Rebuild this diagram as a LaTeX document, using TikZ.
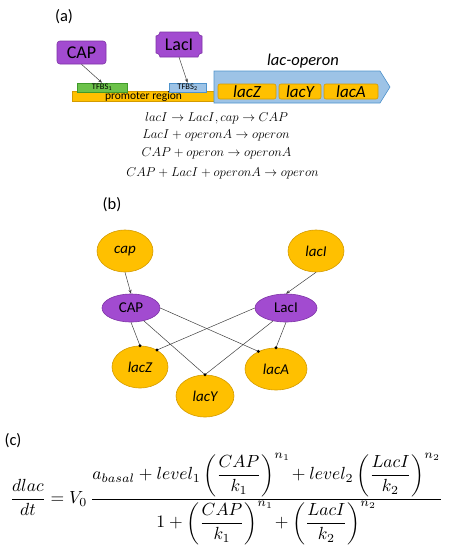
\documentclass[tikz,border=0pt]{standalone}
\usepackage{fontspec}
\setmainfont{Carlito}
\usepackage{amsmath}
\usetikzlibrary{shapes.misc,shapes.geometric,arrows.meta}
\definecolor{purp}{HTML}{A24BD0}
\definecolor{purpb}{HTML}{7E34A6}
\definecolor{orng}{HTML}{FFC000}
\definecolor{orngb}{HTML}{D49B00}
\definecolor{lblue}{HTML}{9DC3E6}
\definecolor{bblue}{HTML}{4F93CC}
\definecolor{grn}{HTML}{6CC24A}
\definecolor{grnb}{HTML}{3F9A2A}
\definecolor{edgec}{HTML}{404040}
\tikzset{
  fs/.style={font=\fontsize{#1}{#1}\selectfont},
  panel/.style={fs=16.5, anchor=center},
  protbox/.style={fill=purp, draw=purpb, line width=0.6pt, rounded corners=3pt, minimum width=49pt, minimum height=23pt, inner sep=0pt, fs=18},
  plaque/.style={fill=purp, draw=purpb, line width=0.6pt},
  genebox/.style={fill=orng, draw=orngb, line width=0.6pt, rounded corners=2pt, minimum height=15pt, inner sep=0pt, font=\fontsize{17}{17}\selectfont\itshape},
  site/.style={line width=0.6pt, minimum height=9pt, inner sep=0pt, fs=8.5},
  eqline/.style={font=\fontsize{12}{12}\selectfont, anchor=center, scale=1.07},
  arr/.style={draw=edgec, line width=0.5pt, -{Stealth[length=4pt,width=3pt]}},
  dotline/.style={draw=edgec, line width=0.5pt},
  enddot/.style={fill=black},
  orngell/.style={ellipse, fill=orng, draw=orngb, line width=0.6pt, minimum width=56pt, minimum height=42pt, inner sep=0pt, font=\fontsize{15}{15}\selectfont\itshape},
  purpell/.style={ellipse, fill=purp, draw=purpb, line width=0.6pt, minimum width=58pt, minimum height=28pt, inner sep=0pt, fs=15},
}
\begin{document}
\begin{tikzpicture}[x=1pt,y=-1pt]
\useasboundingbox (0,0) rectangle (449,550);
% ---------- (a)
\node[panel] (la) at (64,17) {(a)};
\node[site, fill=orng, draw=orngb, minimum width=143pt, fs=11.5] (prom) at (143.5,96.5) {promoter region};
\node[site, fill=grn, draw=grnb, minimum width=50pt] (tfbs1) at (102,87.5) {TFBS\textsubscript{1}};
\node[site, fill=lblue, draw=bblue, minimum width=37pt] (tfbs2) at (187.5,87.5) {TFBS\textsubscript{2}};
\draw[fill=lblue, draw=bblue, line width=0.6pt] (214,71) -- (380,71) -- (390,87) -- (380,103) -- (214,103) -- cycle;
\node[font=\fontsize{16.5}{16.5}\selectfont\itshape] (oplab) at (303,61) {lac-operon};
\node[genebox, minimum width=58pt] (gZ) at (247,91.5) {lacZ};
\node[genebox, minimum width=42pt] (gY) at (300,91.5) {lacY};
\node[genebox, minimum width=54pt] (gA) at (351,91.5) {lacA};
\node[protbox] (CAPbox) at (81.5,52.5) {CAP};
% LacI plaque (concave corners)
\draw[plaque] (160,32) -- (198,32)
  .. controls (198,34.2) and (199.8,36) .. (202,36) -- (202,53)
  .. controls (199.8,53) and (198,54.8) .. (198,57) -- (160,57)
  .. controls (160,54.8) and (158.2,53) .. (156,53) -- (156,36)
  .. controls (158.2,36) and (160,34.2) .. (160,32) -- cycle;
\node[fs=18, minimum width=46pt, minimum height=25pt, inner sep=0pt] (LacIbox) at (179,44.5) {LacI};
\draw[arr] (CAPbox.south) -- (tfbs1.north);
\draw[arr] (LacIbox.south) -- (tfbs2.north);
\node[eqline] (e1) at (216.5,118) {$lacI \rightarrow LacI, cap \rightarrow CAP$};
\node[eqline] (e2) at (216,135.5) {$LacI + operonA \rightarrow operon$};
\node[eqline] (e3) at (216.5,153.5) {$CAP + operon \rightarrow operonA$};
\node[eqline] (e4) at (222.5,173) {$CAP + LacI + operonA \rightarrow operon$};
% ---------- (b)
\node[panel] (lb) at (112,205) {(b)};
\node[orngell] (cap) at (125,251) {cap};
\node[orngell] (lacI) at (316,251) {lacI};
\node[purpell] (CAP) at (131,308) {CAP};
\node[purpell, minimum width=62pt] (LacI) at (286,308) {LacI};
\node[orngell] (lacZ) at (140,367) {lacZ};
\node[orngell, minimum width=58pt] (lacY) at (205,396) {lacY};
\node[orngell, minimum width=62pt] (lacA) at (276,369) {lacA};
\draw[arr] (cap.south) -- (CAP.north);
\draw[arr] (lacI.south) -- (LacI.north);
\draw[dotline] (CAP.south) -- (lacZ.north);
\draw[dotline] (CAP.-45) -- (lacY.north);
\draw[dotline] (CAP.east) -- (lacA.135);
\draw[dotline] (LacI.west) -- (lacZ.45);
\draw[dotline] (LacI.-135) -- (lacY.north);
\draw[dotline] (LacI.south) -- (lacA.north);
\fill[enddot] (lacZ.north) circle (1.7pt);
\fill[enddot] (lacZ.45) circle (1.7pt);
\fill[enddot] (lacY.north) circle (1.7pt);
\fill[enddot] (lacA.135) circle (1.7pt);
\fill[enddot] (lacA.north) circle (1.7pt);
% ---------- (c)
\node[panel] (lc) at (13,441) {(c)};
\node (eq) at (226.5,499) {\resizebox{433pt}{!}{$\displaystyle \frac{dlac}{dt} = V_0\,\frac{a_{basal} + level_1\left(\dfrac{CAP}{k_1}\right)^{n_1}\! + level_2\left(\dfrac{LacI}{k_2}\right)^{n_2}}{1 + \left(\dfrac{CAP}{k_1}\right)^{n_1}\! + \left(\dfrac{LacI}{k_2}\right)^{n_2}}$}};
\end{tikzpicture}
\end{document}
